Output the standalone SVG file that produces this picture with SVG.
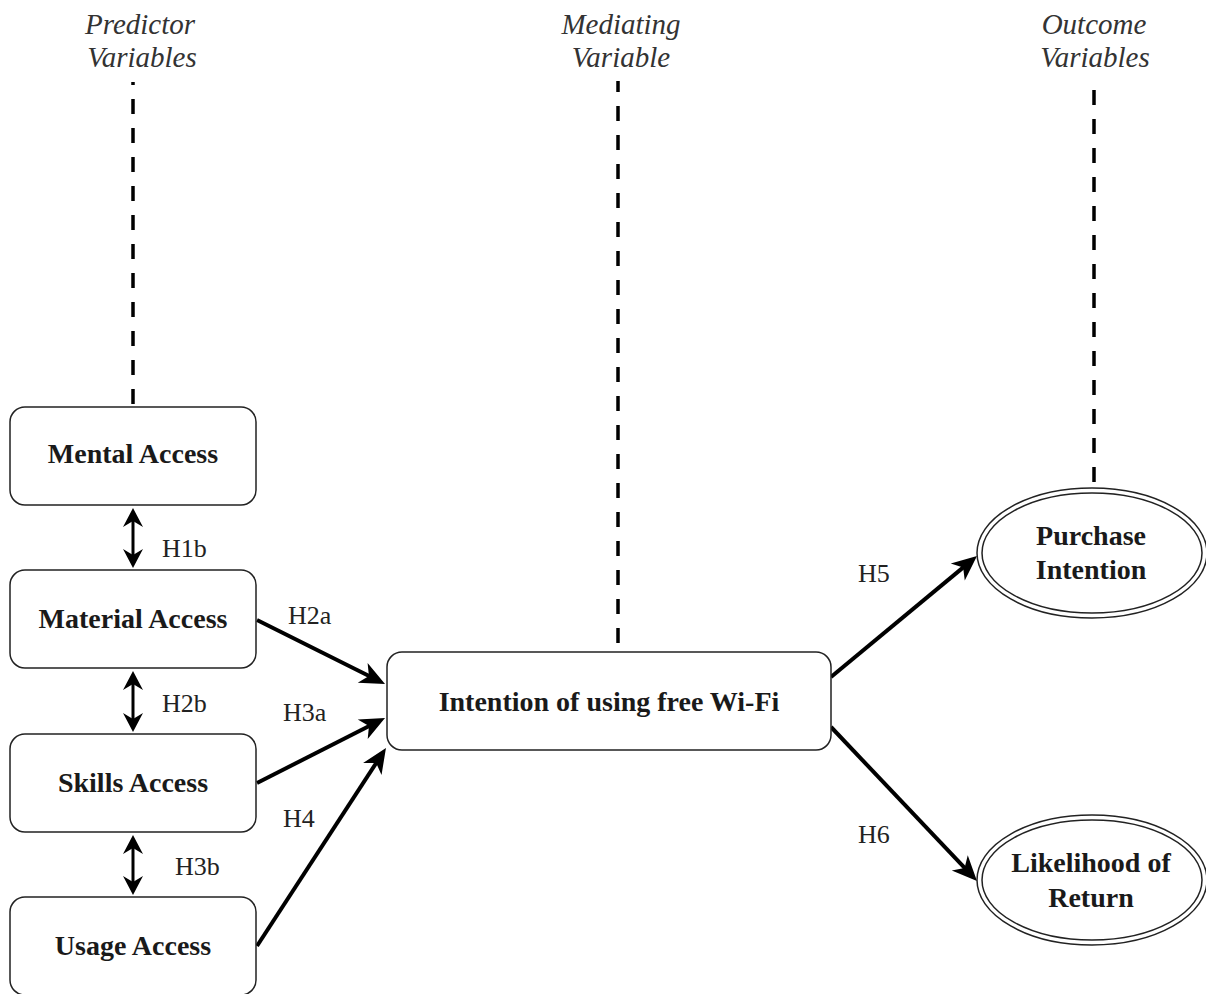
<svg xmlns="http://www.w3.org/2000/svg" width="1206" height="994" viewBox="0 0 1206 994">
  <style>
    .box { fill: #ffffff; stroke: #222222; stroke-width: 1.5; }
    .ell { fill: none; stroke: #222222; stroke-width: 1.5; }
    .name { font-family: "Liberation Serif", "Times New Roman", serif; font-weight: bold; font-size: 28px; fill: #1a1a1a; text-anchor: middle; }
    .head { font-family: "Liberation Serif", "Times New Roman", serif; font-style: italic; font-size: 29px; fill: #333333; text-anchor: middle; }
    .hyp { font-family: "Liberation Serif", "Times New Roman", serif; font-size: 26px; fill: #222222; }
    .dash { stroke: #000000; stroke-width: 3.5; stroke-dasharray: 15 14; fill: none; }
    .link { stroke: #000000; stroke-width: 4; fill: none; marker-end: url(#head); }
    .both { stroke: #000000; stroke-width: 3; fill: none; marker-start: url(#head2); marker-end: url(#head2); }
  </style>
  <defs>
    <!-- notched arrowhead; the tip sits 10px past the line end -->
    <marker id="head" markerUnits="userSpaceOnUse" viewBox="-20 -15 35 30" markerWidth="35" markerHeight="30" refX="0" refY="0" orient="auto" overflow="visible">
      <path d="M10,0 L-15,-11 L-8,0 L-15,11 Z" fill="#000000"/>
    </marker>
    <marker id="head2" markerUnits="userSpaceOnUse" viewBox="-15 -15 30 30" markerWidth="30" markerHeight="30" refX="0" refY="0" orient="auto-start-reverse" overflow="visible">
      <path d="M9,0 L-10,-10 L-4,0 L-10,10 Z" fill="#000000"/>
    </marker>
  </defs>

  <rect width="1206" height="994" fill="#ffffff"/>

  <!-- column headings -->
  <g id="heading-predictor">
    <text class="head" x="140" y="34">Predictor</text>
    <text class="head" x="142" y="67">Variables</text>
  </g>
  <g id="heading-mediating">
    <text class="head" x="621" y="34">Mediating</text>
    <text class="head" x="621" y="67">Variable</text>
  </g>
  <g id="heading-outcome">
    <text class="head" x="1094" y="34">Outcome</text>
    <text class="head" x="1095" y="67">Variables</text>
  </g>

  <!-- connectors -->
  <g id="connectors">
    <line class="dash" x1="133" y1="82" x2="133" y2="407" stroke-dashoffset="12"/>
    <line class="dash" x1="618" y1="81" x2="618" y2="652" stroke-dashoffset="4"/>
    <line class="dash" x1="1094" y1="90" x2="1094" y2="488"/>

    <line class="both" x1="133" y1="517" x2="133" y2="559"/>
    <line class="both" x1="133" y1="680" x2="133" y2="723"/>
    <line class="both" x1="133" y1="844" x2="133" y2="886"/>

    <line class="link" x1="257" y1="620" x2="376.1" y2="679.5"/>
    <line class="link" x1="257" y1="783" x2="376.1" y2="722.5"/>
    <line class="link" x1="257" y1="946" x2="380.5" y2="756.4"/>
    <line class="link" x1="831" y1="677" x2="969.3" y2="562.4"/>
    <line class="link" x1="831" y1="727" x2="970.1" y2="873.7"/>
  </g>

  <!-- hypothesis labels -->
  <g id="labels">
    <text class="hyp" x="162" y="557">H1b</text>
    <text class="hyp" x="288" y="624">H2a</text>
    <text class="hyp" x="162" y="712">H2b</text>
    <text class="hyp" x="283" y="721">H3a</text>
    <text class="hyp" x="283" y="827">H4</text>
    <text class="hyp" x="175" y="875">H3b</text>
    <text class="hyp" x="858" y="582">H5</text>
    <text class="hyp" x="858" y="843">H6</text>
  </g>

  <!-- predictor nodes -->
  <g id="mental-access">
    <rect class="box" x="10" y="407" width="246" height="98" rx="15"/>
    <text class="name" x="133" y="463">Mental Access</text>
  </g>
  <g id="material-access">
    <rect class="box" x="10" y="570" width="246" height="98" rx="15"/>
    <text class="name" x="133" y="628">Material Access</text>
  </g>
  <g id="skills-access">
    <rect class="box" x="10" y="734" width="246" height="98" rx="15"/>
    <text class="name" x="133" y="792">Skills Access</text>
  </g>
  <g id="usage-access">
    <rect class="box" x="10" y="897" width="246" height="98" rx="15"/>
    <text class="name" x="133" y="955">Usage Access</text>
  </g>

  <!-- mediating node -->
  <g id="intention-wifi">
    <rect class="box" x="387" y="652" width="444" height="98" rx="15"/>
    <text class="name" x="609" y="711">Intention of using free Wi-Fi</text>
  </g>

  <!-- outcome nodes -->
  <g id="purchase-intention">
    <ellipse class="ell" cx="1092" cy="553" rx="115" ry="65" fill="#ffffff"/>
    <ellipse class="ell" cx="1092" cy="553" rx="110" ry="60"/>
    <text class="name" x="1091" y="545">Purchase</text>
    <text class="name" x="1091" y="579">Intention</text>
  </g>
  <g id="likelihood-return">
    <ellipse class="ell" cx="1092" cy="880" rx="115" ry="65" fill="#ffffff"/>
    <ellipse class="ell" cx="1092" cy="880" rx="110" ry="60"/>
    <text class="name" x="1091" y="872">Likelihood of</text>
    <text class="name" x="1091" y="907">Return</text>
  </g>
</svg>
